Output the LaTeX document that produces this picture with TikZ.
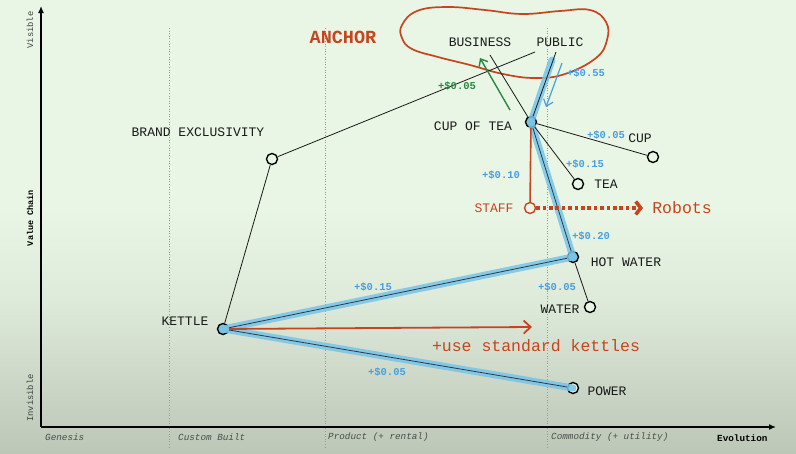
\documentclass[tikz,border=0pt]{standalone}
\usepackage{fontspec}
\setmainfont{Liberation Serif}
\newfontfamily\mono{Liberation Mono}
\usetikzlibrary{arrows.meta}
\definecolor{bgtop}{RGB}{233,246,230}
\definecolor{bgmid}{RGB}{222,234,218}
\definecolor{bglow}{RGB}{200,211,196}
\definecolor{bgbot}{RGB}{188,199,184}
\definecolor{valblue}{RGB}{72,158,222}
\definecolor{band}{RGB}{120,196,230}
\definecolor{navy}{RGB}{35,60,85}
\definecolor{rust}{RGB}{198,68,30}
\definecolor{grn}{RGB}{40,138,60}
\definecolor{ink}{RGB}{25,25,25}
\pgfdeclareverticalshading{bgshade}{100bp}{color(0bp)=(bgbot); color(25bp)=(bgbot); color(31bp)=(bglow); color(42bp)=(bgmid); color(52bp)=(bgtop); color(100bp)=(bgtop)}
\begin{document}
\begin{tikzpicture}[x=1pt,y=-1pt,
  comp/.style={circle, draw=black, line width=1.4pt, fill=bgtop, minimum size=11pt, inner sep=0},
  hot/.style={comp, fill=band},
  lbl/.style={font=\mono\fontsize{13}{13}\selectfont, text=ink, inner sep=0},
  val/.style={font=\mono\bfseries\fontsize{10.5}{11}\selectfont, text=valblue, inner sep=0},
  axl/.style={font=\mono\itshape\fontsize{9.3}{10}\selectfont, text=black!70, inner sep=0, anchor=west},
  link/.style={draw=ink, line width=0.8pt},
  hl/.style={draw=band, line width=7pt, opacity=0.85, line cap=round},
  guide/.style={draw=black!40, dotted, line width=0.6pt}]
\shade[shading=bgshade] (0,0) rectangle (796,453);
\useasboundingbox (0,0) rectangle (796,453);

% guides
\draw[guide] (169,28) -- (169,448);
\draw[guide] (325,28) -- (325,448);
\draw[guide] (547,28) -- (547,448);

% axes
\coordinate (o) at (41,427);
\coordinate (ytop) at (41,6);
\coordinate (xend) at (776,427);
\draw[line width=1.8pt, -{Latex[length=7pt,width=6pt]}] (o) -- (ytop);
\draw[line width=1.8pt, -{Latex[length=7pt,width=6pt]}] (o) -- (xend);

\node[axl] (gen) at (45,437) {Genesis};
\node[axl] (cus) at (178,437) {Custom Built};
\node[axl] (pro) at (328,437) {Product (+ rental)};
\node[axl] (com) at (551,437) {Commodity (+ utility)};
\node[font=\mono\bfseries\fontsize{9.3}{10}\selectfont, inner sep=0, anchor=west] (evo) at (717,438) {Evolution};
\node[font=\mono\fontsize{8.8}{9}\selectfont, text=black!75, rotate=90, inner sep=0] (vis) at (30,30) {Visible};
\node[font=\mono\bfseries\fontsize{8.5}{9}\selectfont, rotate=90, inner sep=0] (vc) at (30,218) {Value Chain};
\node[font=\mono\fontsize{8.8}{9}\selectfont, text=black!75, rotate=90, inner sep=0] (invis) at (30,398) {Invisible};

% anchor blob
\draw[rust, line width=1.7pt] plot[smooth cycle, tension=0.7] coordinates {
  (402,25) (417,11) (447,7) (485,10) (522,14) (560,11) (590,10)
  (606,22) (607,40) (596,58) (565,74) (535,78) (503,74) (470,65)
  (438,57) (412,49) (402,38)};
\node[font=\mono\bfseries\fontsize{18.5}{19}\selectfont, text=rust, inner sep=0] (anchor) at (343,37) {ANCHOR};

% anchors
\node[lbl] (business) at (480,42) {BUSINESS};
\node[lbl] (public) at (560,42) {PUBLIC};
\coordinate (busA) at (490,55);
\coordinate (pubA) at (556,52);
\coordinate (pubB) at (535,52);
\coordinate (pubH) at (552,60);

% components
\node[hot] (cot) at (531,122) {};
\node[comp] (cup) at (653,157) {};
\node[comp] (tea) at (578,184) {};
\node[comp, draw=rust] (staff) at (530,208) {};
\node[hot] (hw) at (573,257) {};
\node[comp] (water) at (590,307) {};
\node[hot] (kettle) at (223,329) {};
\node[comp] (power) at (573,388) {};
\node[comp] (brand) at (272,159) {};

% highlight bands
\draw[hl] (pubH) -- (cot.center);
\draw[hl] (cot.center) -- (hw.center);
\draw[hl] (kettle.center) -- (hw.center);
\draw[hl] (kettle.center) -- (power.center);

% links
\draw[link] (pubA) -- (cot);
\draw[link] (busA) -- (cot);
\draw[link] (pubB) -- (brand);
\draw[link] (brand) -- (kettle);
\draw[link] (cot) -- (cup);
\draw[link] (cot) -- (tea);
\draw[link, draw=navy] (cot) -- (hw);
\draw[link] (hw) -- (water);
\draw[link, draw=navy] (kettle) -- (hw);
\draw[link, draw=navy] (kettle) -- (power);
\draw[rust, line width=1.6pt] (cot) -- (staff);

% movement arrows
\coordinate (gA) at (510,110);
\coordinate (gB) at (480,58);
\draw[grn, line width=1.4pt, -{Straight Barb[length=6pt,width=10pt]}] (gA) -- (gB);
\coordinate (bA) at (562,63);
\coordinate (bB) at (546,107);
\draw[valblue, line width=1.2pt, -{Straight Barb[length=6pt,width=10pt]}] (bA) -- (bB);
\coordinate (kT) at (532,327);
\draw[rust, line width=1.8pt, -{Straight Barb[length=7pt,width=13pt]}] (kettle) -- (kT);
\coordinate (rT) at (643,208);
\draw[rust, line width=3.6pt, dash pattern=on 3.6pt off 2.8pt, -{Straight Barb[length=5pt,width=13pt]}] (staff) -- (rT);

% labels
\node[lbl] (lcot) at (473,126) {CUP OF TEA};
\node[lbl] (lcup) at (640,138) {CUP};
\node[lbl] (ltea) at (606,184) {TEA};
\node[lbl, text=rust] (lstaff) at (494,208) {STAFF};
\node[lbl] (lhw) at (626,262) {HOT WATER};
\node[lbl] (lwater) at (560,309) {WATER};
\node[lbl] (lkettle) at (185,321) {KETTLE};
\node[lbl] (lpower) at (607,391) {POWER};
\node[lbl] (lbrand) at (198,132) {BRAND EXCLUSIVITY};
\node[font=\mono\fontsize{16.5}{17}\selectfont, text=rust, inner sep=0] (robots) at (682,208) {Robots};
\node[font=\mono\fontsize{16.5}{17}\selectfont, text=rust, inner sep=0] (usek) at (536,346) {+use standard kettles};

\node[val, text=grn] (v1) at (457,86) {+\$0.05};
\node[val] (v2) at (586,73) {+\$0.55};
\node[val] (v3) at (606,135) {+\$0.05};
\node[val] (v4) at (585,164) {+\$0.15};
\node[val] (v5) at (501,175) {+\$0.10};
\node[val] (v6) at (591,236) {+\$0.20};
\node[val] (v7) at (557,287) {+\$0.05};
\node[val] (v8) at (373,287) {+\$0.15};
\node[val] (v9) at (387,372) {+\$0.05};
\end{tikzpicture}
\end{document}
